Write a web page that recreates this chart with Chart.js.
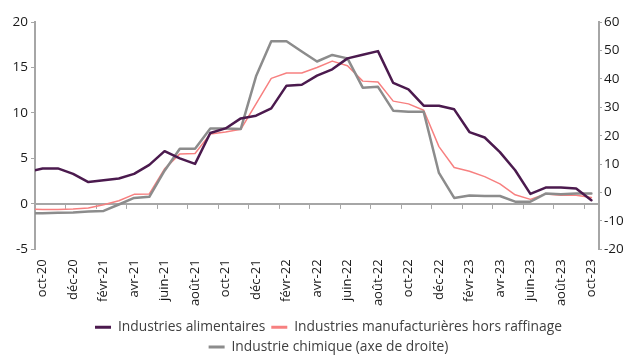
<!DOCTYPE html>
<html lang="fr">
<head>
<meta charset="utf-8">
<script src="https://cdn.jsdelivr.net/npm/chart.js@4.4.1/dist/chart.umd.min.js"></script>
<style>
  html, body { margin: 0; padding: 0; background: #fff; }
  #box { width: 627px; height: 355px; }
</style>
</head>
<body>
<div id="box"><canvas id="grafico"></canvas></div>
<script>
// mois (le premier, sept-20, sort du cadre à gauche : la courbe part du bord)
const mois = ["sept-20", "oct-20", "nov-20", "déc-20", "janv-21", "févr-21", "mars-21", "avr-21", "mai-21", "juin-21", "juil-21", "août-21", "sept-21",
  "oct-21", "nov-21", "déc-21", "janv-22", "févr-22", "mars-22", "avr-22", "mai-22", "juin-22", "juil-22", "août-22", "sept-22",
  "oct-22", "nov-22", "déc-22", "janv-23", "févr-23", "mars-23", "avr-23", "mai-23", "juin-23", "juil-23", "août-23", "sept-23", "oct-23"];

const alimentaires = [3.5, 3.9, 3.9, 3.3, 2.4, 2.6, 2.8, 3.3, 4.3, 5.8, 5.0, 4.4, 7.8, 8.3, 9.4, 9.7, 10.5, 13.0, 13.1,
  14.1, 14.8, 16.0, 16.4, 16.8, 13.3, 12.6, 10.8, 10.8, 10.4, 7.9, 7.3, 5.7, 3.7, 1.1, 1.8, 1.8, 1.7, 0.4];
const manufHorsRaffinage = [-0.55, -0.6, -0.6, -0.55, -0.45, -0.1, 0.35, 1.05, 1.1, 3.85, 5.5, 5.55, 7.7, 7.9, 8.2, 11.0, 13.8, 14.4, 14.4,
  15.0, 15.7, 15.2, 13.5, 13.4, 11.3, 11.0, 10.3, 6.3, 4.0, 3.6, 3.0, 2.2, 1.0, 0.5, 1.1, 0.95, 0.95, 0.7];
const chimique = [-7.3, -7.3, -7.15, -7.0, -6.7, -6.45, -4.2, -1.9, -1.5, 7.7, 15.4, 15.4, 22.5, 22.5, 22.4, 40.9, 53.2, 53.2, 49.6,
  46.1, 48.4, 47.2, 36.9, 37.2, 28.8, 28.4, 28.4, 6.9, -1.9, -1.05, -1.2, -1.2, -3.2, -3.2, -0.35, -0.6, -0.35, -0.35];

const series = ["Industries alimentaires", "Industries manufacturières hors raffinage", "Industrie chimique (axe de droite)"];

const GRIS_AXE = "#a6a6a6";
const police = "'Open Sans', 'Noto Sans', sans-serif";

// axe horizontal tracé au niveau du zéro, avec une graduation tous les deux mois
const axeZero = {
  id: "axeZero",
  beforeDatasetsDraw(chart) {
    const { ctx, chartArea } = chart;
    const x = chart.scales.x;
    const y0 = chart.scales.y.getPixelForValue(0);
    const demi = (x.getPixelForValue(2) - x.getPixelForValue(1)) / 2;
    ctx.save();
    ctx.strokeStyle = GRIS_AXE;
    ctx.lineWidth = 2;
    ctx.beginPath();
    ctx.moveTo(chartArea.left, y0);
    ctx.lineTo(chartArea.right, y0);
    ctx.stroke();
    ctx.lineWidth = 1;
    for (let i = 1; i < mois.length; i += 2) {
      const px = Math.round(x.getPixelForValue(i) - demi) + 0.5;
      ctx.beginPath();
      ctx.moveTo(px, y0);
      ctx.lineTo(px, y0 + 5);
      ctx.stroke();
    }
    ctx.restore();
  }
};

// légende centrée sur la zone de tracé plutôt que sur tout le canvas
const legendeDecalee = {
  id: "legendeDecalee",
  afterLayout(chart) {
    if (chart.legend) chart.legend.left += 30;
  }
};

new Chart(document.getElementById("grafico"), {
  type: "line",
  data: {
    labels: mois,
    datasets: [
      {
        label: series[0], data: alimentaires, yAxisID: "y",
        borderColor: "#4b1a4e", backgroundColor: "#4b1a4e", borderWidth: 2.5, order: 0
      },
      {
        label: series[1], data: manufHorsRaffinage, yAxisID: "y",
        borderColor: "#f78080", backgroundColor: "#f78080", borderWidth: 1.5, order: 2
      },
      {
        label: series[2], data: chimique, yAxisID: "y2",
        borderColor: "#8c8c8c", backgroundColor: "#8c8c8c", borderWidth: 2.5, order: 1
      }
    ]
  },
  options: {
    responsive: true,
    maintainAspectRatio: false,
    animation: false,
    elements: {
      point: { radius: 0, hoverRadius: 0 },
      line: { tension: 0, borderJoinStyle: "round", borderCapStyle: "round" }
    },
    layout: { padding: { top: 22, left: 0, right: 0, bottom: -9 } },
    plugins: {
      legend: {
        position: "bottom",
        labels: {
          color: "#404040",
          font: { family: police, size: 13.8 },
          usePointStyle: true,
          pointStyle: "line",
          pointStyleWidth: 16,
          padding: 6,
          generateLabels(chart) {
            const items = Chart.defaults.plugins.legend.labels.generateLabels(chart);
            items.forEach(it => { it.lineWidth = 3; });
            return items.sort((a, b) => a.datasetIndex - b.datasetIndex);
          }
        }
      },
      tooltip: { enabled: false }
    },
    scales: {
      x: {
        type: "category",
        min: "oct-20",
        offset: true,
        grid: { display: false },
        border: { display: false },
        ticks: {
          autoSkip: false,
          maxRotation: 90,
          minRotation: 90,
          padding: 2,
          color: "#1a1a1a",
          font: { family: police, size: 13 },
          callback(value) {
            return (value - 1) % 2 === 0 ? this.getLabelForValue(value) : "";
          }
        },
        afterFit(scale) { scale.height = 65; }
      },
      y: {
        position: "left",
        min: -5,
        max: 20,
        grid: { drawOnChartArea: false, tickLength: 4, color: GRIS_AXE },
        border: { color: GRIS_AXE, width: 2 },
        ticks: { stepSize: 5, padding: 3, color: "#1a1a1a", font: { family: police, size: 13.5 } },
        afterFit(scale) { scale.width = 35; }
      },
      y2: {
        position: "right",
        min: -20,
        max: 60,
        grid: { drawOnChartArea: false, tickLength: 3, color: GRIS_AXE },
        border: { color: GRIS_AXE, width: 2 },
        ticks: { stepSize: 10, padding: 2, color: "#1a1a1a", font: { family: police, size: 13.5 } },
        afterFit(scale) { scale.width = 28; }
      }
    }
  },
  plugins: [axeZero, legendeDecalee]
});
</script>
</body>
</html>
